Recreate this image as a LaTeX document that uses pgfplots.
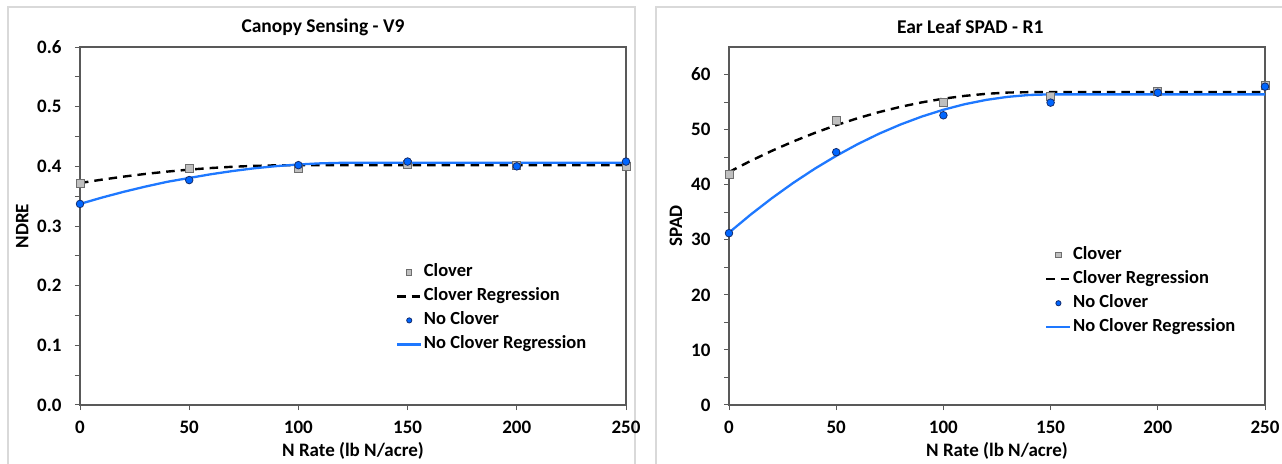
\documentclass[border=0pt]{standalone}
\usepackage{pgfplots}
\pgfplotsset{compat=1.18}
\usepackage{fontspec}
\setmainfont{Carlito}
\definecolor{axisgray}{RGB}{89,89,89}
\definecolor{framegray}{RGB}{217,217,217}
\definecolor{sqfill}{RGB}{191,191,191}
\definecolor{sqdraw}{RGB}{110,110,110}
\definecolor{dotfill}{RGB}{0,102,255}
\definecolor{dotdraw}{RGB}{20,45,110}
\definecolor{regblue}{RGB}{30,120,255}
\newcommand{\tickfont}{\fontsize{19bp}{22bp}\selectfont\bfseries}
\newcommand{\labfont}{\fontsize{19bp}{22bp}\selectfont\bfseries}
\newcommand{\titfont}{\fontsize{19.5bp}{22bp}\selectfont\bfseries}
\newcommand{\legfont}{\fontsize{18.5bp}{21bp}\selectfont\bfseries}

\pgfplotsset{
  panel/.style={
    anchor=south west, scale only axis,
    xmin=0, xmax=250, xtick={0,50,100,150,200,250},
    tick pos=left, tick align=outside,
    major tick length=5bp, minor tick length=5bp,
    axis line style={draw=axisgray, line width=1.1bp},
    every tick/.style={draw=axisgray, line width=1bp},
    minor y tick num=1,
    ticklabel style={font=\tickfont},
    xticklabel style={yshift=-8bp},
    yticklabel style={xshift=-10bp},
    /pgf/number format/assume math mode=true,
    label style={font=\labfont},
    title style={font=\titfont, yshift=-6pt},
    legend cell align=left,
    legend style={draw=none, fill=none, font=\legfont, anchor=north west,
      row sep=0bp, column sep=0bp,
      nodes={inner xsep=1.5bp, inner ysep=3bp, text height=13.5bp, text depth=4.5bp}},
    clip=false,
  },
  sqmarks/.style={only marks, mark=square*, mark size=4bp,
    mark options={fill=sqfill, draw=sqdraw, line width=0.8bp},
    legend image code/.code={\draw[##1, mark size=2.6bp] plot coordinates {(12bp,0bp)};}},
  dotmarks/.style={only marks, mark=*, mark size=3.8bp,
    mark options={fill=dotfill, draw=dotdraw, line width=0.8bp},
    legend image code/.code={\draw[##1, mark size=2.6bp] plot coordinates {(12bp,0bp)};}},
  dashreg/.style={no marks, black, line width=2.4bp, dash pattern=on 8.5bp off 6bp,
    legend image code/.code={\draw[##1] (0bp,0bp) -- (24bp,0bp);}},
  bluereg/.style={no marks, regblue, line width=2.3bp,
    legend image code/.code={\draw[##1] (0bp,0bp) -- (24bp,0bp);}},
}

\begin{document}
\begin{tikzpicture}
\path[use as bounding box] (0,0) rectangle (1282bp,464bp);
\draw[framegray, line width=1.2bp] (8bp,-10bp) rectangle (635bp,457bp);
\draw[framegray, line width=1.2bp] (656bp,-10bp) rectangle (1300bp,457bp);

% Left panel
\begin{axis}[panel,
  at={(80bp,59bp)}, width=546bp, height=358bp,
  ymin=0, ymax=0.6, ytick={0,0.1,0.2,0.3,0.4,0.5,0.6},
  yticklabel style={/pgf/number format/.cd, fixed, fixed zerofill, precision=1},
  xlabel={N Rate (lb N/acre)}, ylabel={NDRE},
  xlabel style={at={(axis description cs:0.5,-0.127)}, anchor=center},
  ylabel style={at={(axis description cs:-0.106,0.5)}, anchor=center},
  title={Canopy Sensing - V9},
  title style={at={(axis description cs:0.445,1.056)}, anchor=center},
  legend style={at={(axis description cs:0.573,0.41)}},
]
\addplot[sqmarks] coordinates {(0,0.372) (50,0.397) (100,0.397) (150,0.403) (200,0.402) (250,0.400)};
\addlegendentry{Clover}
\addplot[dashreg] coordinates {(0,0.372) (10,0.3777) (20,0.3828) (30,0.3873) (40,0.3912) (50,0.3945) (60,0.3972) (70,0.3993) (80,0.4008) (90,0.4017) (100,0.402) (250,0.402)};
\addlegendentry{Clover Regression}
\addplot[dotmarks] coordinates {(0,0.337) (50,0.377) (100,0.402) (150,0.408) (200,0.400) (250,0.408)};
\addlegendentry{No Clover}
\addplot[bluereg] coordinates {(0,0.337) (10,0.3476) (20,0.3573) (30,0.3661) (40,0.3741) (50,0.3805) (60,0.3868) (70,0.3922) (80,0.3968) (90,0.4004) (100,0.4031) (110,0.4050) (120,0.4059) (125,0.406) (250,0.406)};
\addlegendentry{No Clover Regression}
\end{axis}

% Right panel
\begin{axis}[panel,
  at={(729bp,59bp)}, width=536bp, height=358bp,
  ymin=0, ymax=65, ytick={0,10,20,30,40,50,60},
  xlabel={N Rate (lb N/acre)}, ylabel={SPAD},
  xlabel style={at={(axis description cs:0.5,-0.127)}, anchor=center},
  ylabel style={at={(axis description cs:-0.099,0.5)}, anchor=center},
  title={Ear Leaf SPAD - R1},
  title style={at={(axis description cs:0.45,1.056)}, anchor=center},
  legend style={at={(axis description cs:0.584,0.458)}},
]
\addplot[sqmarks] coordinates {(0,41.9) (50,51.7) (100,54.9) (150,56.1) (200,57.0) (250,58.0)};
\addlegendentry{Clover}
\addplot[dashreg] coordinates {(0,42.3) (10,44.30) (20,46.15) (30,47.85) (40,49.40) (50,50.81) (60,52.07) (70,53.18) (80,54.14) (90,54.95) (100,55.62) (110,56.13) (120,56.50) (130,56.73) (140,56.8) (250,56.8)};
\addlegendentry{Clover Regression}
\addplot[dotmarks] coordinates {(0,31.2) (50,45.9) (100,52.6) (150,54.9) (200,56.7) (250,57.8)};
\addlegendentry{No Clover}
\addplot[bluereg] coordinates {(0,31.3) (10,34.54) (20,37.55) (30,40.34) (40,42.90) (50,45.24) (60,47.36) (70,49.26) (80,50.93) (90,52.38) (100,53.61) (110,54.62) (120,55.40) (130,55.95) (140,56.29) (150,56.4) (250,56.4)};
\addlegendentry{No Clover Regression}
\end{axis}
\end{tikzpicture}
\end{document}
